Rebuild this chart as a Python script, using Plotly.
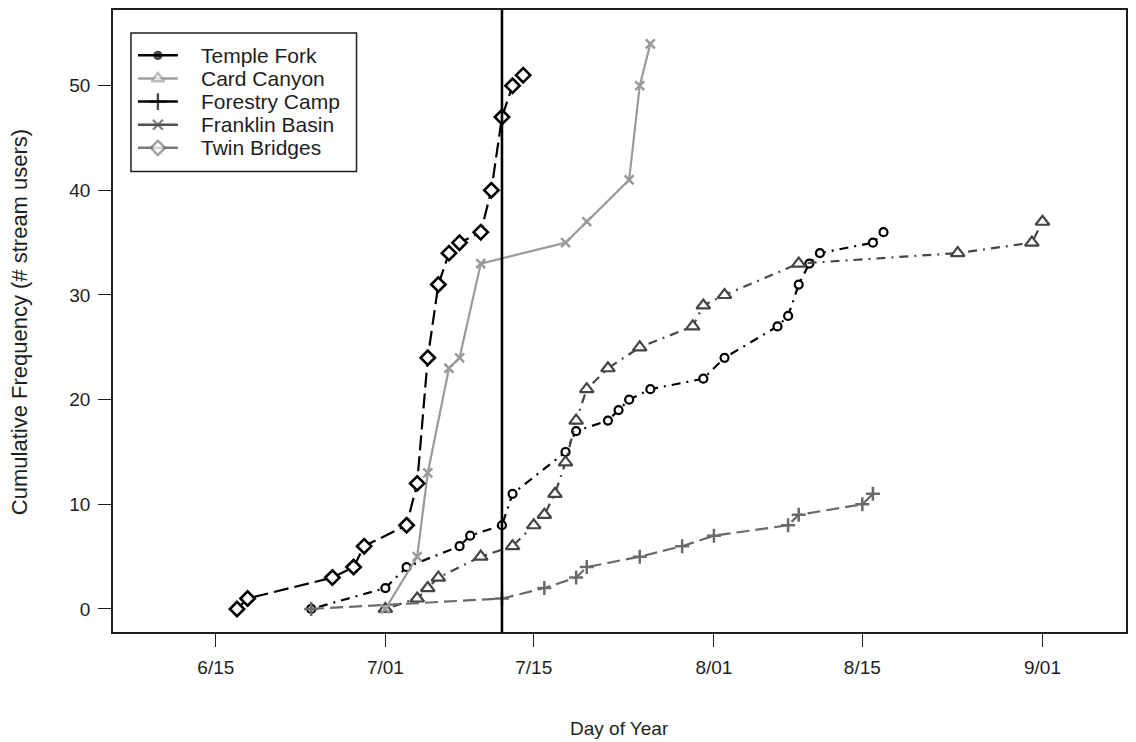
import plotly.graph_objects as go

# Day-of-year axis ticks
tick_days = [166, 182, 196, 213, 227, 244]
tick_text = ["6/15", "7/01", "7/15", "8/01", "8/15", "9/01"]
y_ticks = [0, 10, 20, 30, 40, 50]

# Cumulative stream users by day of year, per site
temple_day = [175, 182, 184, 189, 190, 193, 194, 199, 200, 203, 204, 205, 207, 212,
              214, 219, 220, 221, 222, 223, 228, 229]
temple_n = [0, 2, 4, 6, 7, 8, 11, 15, 17, 18, 19, 20, 21, 22, 24, 27, 28, 31, 33, 34, 35, 36]

card_day = [182, 185, 186, 187, 191, 194, 196, 197, 198, 199, 200, 201, 203, 206,
            211, 212, 214, 221, 236, 243, 244]
card_n = [0, 1, 2, 3, 5, 6, 8, 9, 11, 14, 18, 21, 23, 25, 27, 29, 30, 33, 34, 35, 37]

forestry_day = [175, 193, 197, 200, 201, 206, 210, 213, 220, 221, 227, 228]
forestry_n = [0, 1, 2, 3, 4, 5, 6, 7, 8, 9, 10, 11]

franklin_day = [182, 185, 186, 188, 189, 191, 199, 201, 205, 206, 207]
franklin_n = [0, 5, 13, 23, 24, 33, 35, 37, 41, 50, 54]

twin_day = [168, 169, 177, 179, 180, 184, 185, 186, 187, 188, 189, 191, 192, 193, 194, 195]
twin_n = [0, 1, 3, 4, 6, 8, 12, 24, 31, 34, 35, 36, 40, 47, 50, 51]

cutoff_day = 193

FONT = "Liberation Sans, Arial, sans-serif"
INK = "#1e1e1e"

# Plot-area geometry in pixels (used to place the hand-built legend)
W, H = 1136, 742
ML, MR, MT, MB = 113, 8, 8, 110
PW, PH = W - ML - MR, H - MT - MB


def px_to_paper(px, py):
    return (px - ML) / PW, (H - MB - py) / PH


series = [
    dict(x=temple_day, y=temple_n, color="#000000", dash="2px,6px,9px,6px",
         symbol="circle", size=8, mlw=2.2, fill="white"),
    dict(x=card_day, y=card_n, color="#454545", dash="2px,6px,9px,6px",
         symbol="triangle-up", size=12, mlw=2.2, fill="white"),
    dict(x=forestry_day, y=forestry_n, color="#6a6a6a", dash="13px,6px",
         symbol="cross-thin", size=10, mlw=2.5, fill="#6a6a6a"),
    dict(x=franklin_day, y=franklin_n, color="#9a9a9a", dash="solid",
         symbol="x-thin", size=9, mlw=2.5, fill="#9a9a9a"),
    dict(x=twin_day, y=twin_n, color="#000000", dash="15px,6px",
         symbol="diamond", size=11, mlw=2.6, fill="white"),
]

fig = go.Figure()

for s in series:
    fig.add_trace(go.Scatter(
        x=s["x"], y=s["y"], mode="lines+markers", showlegend=False,
        line=dict(color=s["color"], width=2.2, dash=s["dash"]),
        marker=dict(symbol=s["symbol"], size=s["size"], color=s["fill"],
                    line=dict(color=s["color"], width=s["mlw"])),
        cliponaxis=False,
    ))

# Legend (drawn by hand so the row spacing stays tight)
legend_names = ["Temple Fork", "Card Canyon", "Forestry Camp", "Franklin Basin", "Twin Bridges"]
legend_colors = ["#000000", "#a0a0a0", "#000000", "#505050", "#787878"]
legend_symbols = ["circle", "triangle-up", "cross-thin", "x-thin", "diamond"]
legend_sizes = [7, 11, 12, 10, 11]
legend_fills = ["#000000", "white", "#000000", "#505050", "white"]

box_x0, box_y0 = px_to_paper(131, 170)
box_x1, box_y1 = px_to_paper(357, 31)
shapes = [dict(type="rect", xref="paper", yref="paper", x0=box_x0, y0=box_y0,
               x1=box_x1, y1=box_y1, line=dict(color=INK, width=1.5),
               fillcolor="white", layer="below")]

annotations = []
key_x, key_y = [], []
for i, name in enumerate(legend_names):
    row_py = 53.5 + i * 23.2
    lx0, ly = px_to_paper(138, row_py)
    lx1, _ = px_to_paper(178, row_py)
    shapes.append(dict(type="line", xref="paper", yref="paper", x0=lx0, x1=lx1,
                       y0=ly, y1=ly, line=dict(color=legend_colors[i], width=2.5),
                       layer="below"))
    mx, _ = px_to_paper(158, row_py)
    key_x.append(mx)
    key_y.append(ly)
    tx, _ = px_to_paper(199, row_py)
    annotations.append(dict(text=name, x=tx, y=ly, xref="paper", yref="paper",
                            xanchor="left", yanchor="middle", showarrow=False,
                            font=dict(family=FONT, size=21, color=INK)))

fig.add_trace(go.Scatter(
    x=key_x, y=key_y, xaxis="x2", yaxis="y2", mode="markers", showlegend=False,
    hoverinfo="skip",
    marker=dict(symbol=legend_symbols, size=legend_sizes, color=legend_fills,
                line=dict(color=legend_colors, width=2.4)),
    cliponaxis=False,
))

# Vertical reference line
shapes.append(dict(type="line", xref="x", yref="paper", x0=cutoff_day, x1=cutoff_day,
                   y0=0, y1=1, line=dict(color="#000000", width=2.6)))

annotations.append(dict(text="Day of Year", x=0.5, y=px_to_paper(0, 729)[1],
                        xref="paper", yref="paper", xanchor="center", yanchor="middle",
                        showarrow=False, font=dict(family=FONT, size=19, color=INK)))
annotations.append(dict(text="Cumulative Frequency (# stream users)",
                        x=px_to_paper(20, 0)[0], y=px_to_paper(0, 321)[1],
                        xref="paper", yref="paper", xanchor="center", yanchor="middle",
                        textangle=-90, showarrow=False,
                        font=dict(family=FONT, size=22, color=INK)))

axis_common = dict(showgrid=False, zeroline=False, showline=True, mirror=True,
                   linecolor=INK, linewidth=1.5, ticks="outside", ticklen=13,
                   tickwidth=1.3, tickcolor=INK,
                   tickfont=dict(family=FONT, size=19, color=INK))

fig.update_layout(
    width=W, height=H,
    margin=dict(l=ML, r=MR, t=MT, b=MB),
    paper_bgcolor="white", plot_bgcolor="white",
    xaxis=dict(range=[156.3, 251.88], tickmode="array", tickvals=tick_days,
               ticktext=tick_text, ticklabelstandoff=4, **axis_common),
    yaxis=dict(range=[-2.2, 57.23], tickmode="array", tickvals=y_ticks,
               ticklabelstandoff=4, **axis_common),
    xaxis2=dict(overlaying="x", range=[0, 1], visible=False, fixedrange=True),
    yaxis2=dict(overlaying="y", range=[0, 1], visible=False, fixedrange=True),
    shapes=shapes,
    annotations=annotations,
    showlegend=False,
)

fig.write_html("out.html")
